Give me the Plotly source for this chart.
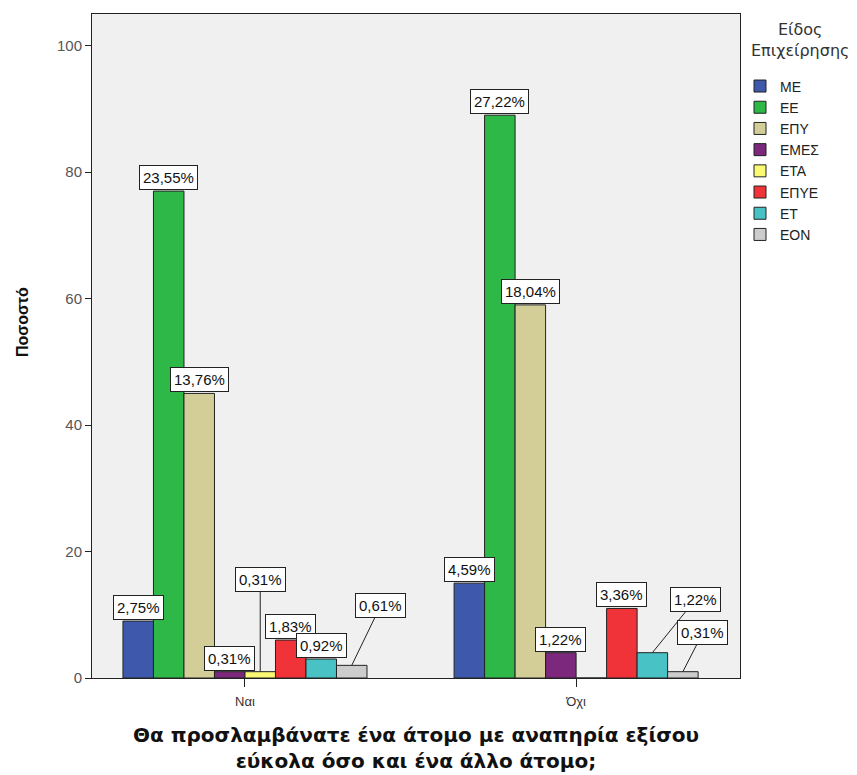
import plotly.graph_objects as go

# categories and series (bar height = count, label = % of total)
answers = ["Ναι", "Όχι"]
types = ["ΜΕ", "ΕΕ", "ΕΠΥ", "ΕΜΕΣ", "ΕΤΑ", "ΕΠΥΕ", "ΕΤ", "ΕΟΝ"]
colors = ["#3E58AC", "#2EB848", "#D3CE97", "#7C287D", "#FBF873", "#EF3338", "#48C2C5", "#CCCCCC"]
counts = {
    "ΜΕ":   [9, 15],
    "ΕΕ":   [77, 89],
    "ΕΠΥ":  [45, 59],
    "ΕΜΕΣ": [1, 4],
    "ΕΤΑ":  [1, 0],
    "ΕΠΥΕ": [6, 11],
    "ΕΤ":   [3, 4],
    "ΕΟΝ":  [2, 1],
}
pct_labels = {
    "ΜΕ":   ["2,75%", "4,59%"],
    "ΕΕ":   ["23,55%", "27,22%"],
    "ΕΠΥ":  ["13,76%", "18,04%"],
    "ΕΜΕΣ": ["0,31%", "1,22%"],
    "ΕΤΑ":  ["0,31%", None],
    "ΕΠΥΕ": ["1,83%", "3,36%"],
    "ΕΤ":   ["0,92%", "1,22%"],
    "ΕΟΝ":  ["0,61%", "0,31%"],
}
# labels pulled away from their bars with a leader line: (type, answer index) -> pixel offset
leader = {
    ("ΕΤΑ", 0): (0, -92),
    ("ΕΟΝ", 0): (29, -60),
    ("ΕΤ", 1): (43, -53),
    ("ΕΟΝ", 1): (20, -39),
}

FONT = "Arial, Liberation Sans, sans-serif"
WIDE = "DejaVu Sans, Verdana, sans-serif"
bargap = 0.263
w = (1 - bargap) / len(types)
xpos = [0, 1]

fig = go.Figure()
for i, t in enumerate(types):
    fig.add_trace(go.Bar(
        x=xpos, y=counts[t], name=t,
        marker=dict(color=colors[i], line=dict(color="#222", width=1)),
    ))

for i, t in enumerate(types):
    for j, cat in enumerate(xpos):
        lab = pct_labels[t][j]
        if lab is None:
            continue
        xc = cat + (i - (len(types) - 1) / 2) * w
        common = dict(x=xc, y=counts[t][j], text=lab,
                      font=dict(family=FONT, size=15, color="#111"),
                      bgcolor="white", bordercolor="#222", borderwidth=1, borderpad=3)
        if (t, j) in leader:
            ax, ay = leader[(t, j)]
            fig.add_annotation(**common, showarrow=True, arrowhead=0, arrowwidth=1,
                               arrowcolor="#222", ax=ax, ay=ay, standoff=0)
        else:
            fig.add_annotation(**common, showarrow=False, yanchor="bottom", yshift=1)

# legend title
fig.add_annotation(x=1.0926, y=0.961, xref="paper", yref="paper", showarrow=False,
                   xanchor="center", yanchor="middle",
                   text="Είδος<br>Επιχείρησης", align="center",
                   font=dict(family=WIDE, size=16, color="#333"))
# y axis title (sits a little above the middle, as in the original)
fig.add_annotation(x=-0.108, y=0.536, xref="paper", yref="paper", showarrow=False,
                   xanchor="center", yanchor="middle", textangle=-90,
                   text="<b>Ποσοστό</b>", font=dict(family=FONT, size=16, color="#111"))

fig.update_layout(
    width=849, height=767,
    barmode="group", bargap=bargap, bargroupgap=0,
    paper_bgcolor="white", plot_bgcolor="#F0F0F0",
    margin=dict(l=84, r=117, t=6, b=97),
    font=dict(family=FONT, size=12, color="#222"),
    legend=dict(
        x=1.0, xanchor="left", y=0.915, yanchor="top",
        font=dict(family=FONT, size=14, color="#222"),
        bgcolor="rgba(0,0,0,0)", itemwidth=30, tracegroupgap=0,
    ),
    xaxis=dict(
        tickvals=xpos, ticktext=answers, range=[-0.462, 1.495],
        showline=True, linecolor="#222", mirror=True, linewidth=1,
        ticks="outside", ticklen=8, tickcolor="#222", showgrid=False, zeroline=False,
        ticklabelstandoff=3,
        tickfont=dict(family=FONT, size=13, color="#333"),
        title=dict(text="<b>Θα προσλαμβάνατε ένα άτομο με αναπηρία εξίσου<br>εύκολα όσο και ένα άλλο άτομο;</b>",
                   font=dict(family=WIDE, size=20, color="#111"), standoff=20),
    ),
    yaxis=dict(
        range=[0, 105], tickvals=[0, 20, 40, 60, 80, 100],
        showline=True, linecolor="#222", mirror=True, linewidth=1,
        ticks="outside", ticklen=6, tickcolor="#222", showgrid=False, zeroline=False,
        tickfont=dict(family=FONT, size=15, color="#555"),
    ),
)

fig.write_html("out.html")
